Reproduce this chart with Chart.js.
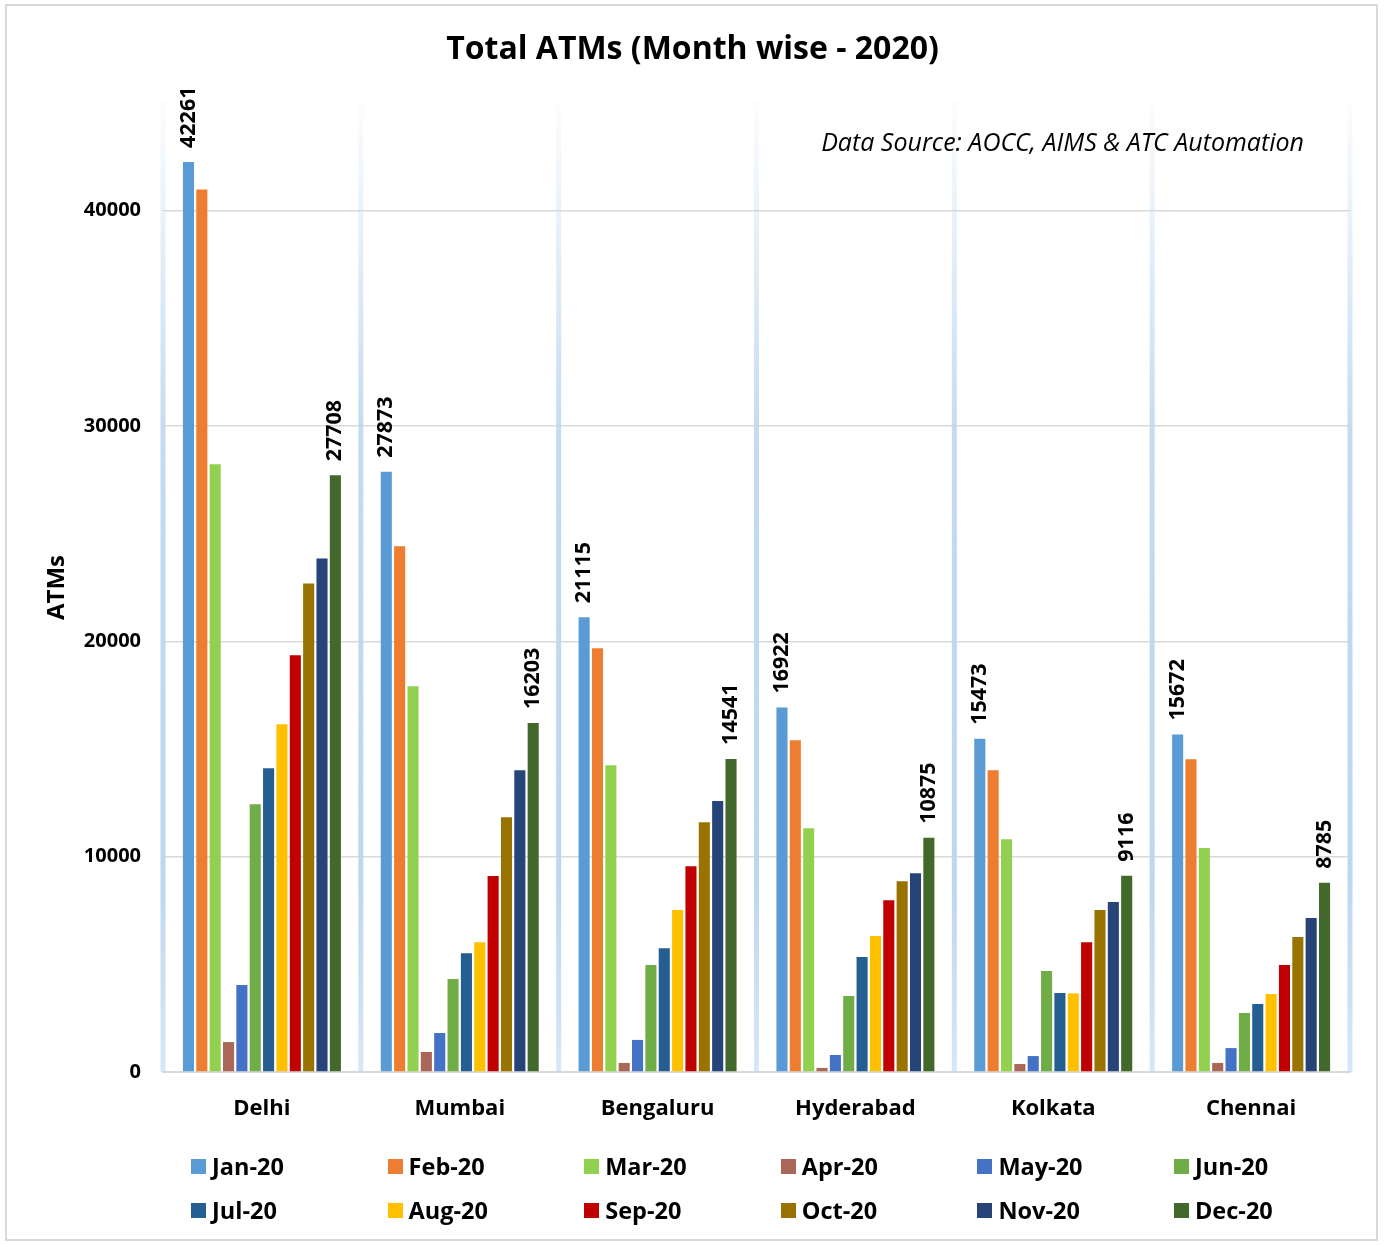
<!DOCTYPE html>
<html>
<head>
<meta charset="utf-8">
<script src="https://cdn.jsdelivr.net/npm/chart.js@4/dist/chart.umd.min.js"></script>
<style>
  html, body { margin: 0; padding: 0; background: #fff; overflow: hidden; }
  #wrap { position: relative; width: 1385px; height: 1245px; }
  #frame { position: absolute; left: 5px; top: 4px; width: 1373px; height: 1237px; border: 2px solid #D9D9D9; box-sizing: border-box; pointer-events: none; }
  #legend { position: absolute; left: 191px; top: 1144px; display: grid; grid-template-columns: repeat(6, 196.6px); grid-auto-rows: 44px; font-family: 'Open Sans', sans-serif; font-weight: bold; font-size: 23.5px; color: #000; }
  .item { display: flex; align-items: center; white-space: nowrap; }
  .sw { width: 15px; height: 15px; margin-right: 6px; flex: none; }
</style>
</head>
<body>
<div id="wrap">
  <canvas id="c" width="1385" height="1245"></canvas>
  <div id="legend"></div>
  <div id="frame"></div>
</div>
<script>
const cities = ['Delhi', 'Mumbai', 'Bengaluru', 'Hyderabad', 'Kolkata', 'Chennai'];
const months = ['Jan-20', 'Feb-20', 'Mar-20', 'Apr-20', 'May-20', 'Jun-20', 'Jul-20', 'Aug-20', 'Sep-20', 'Oct-20', 'Nov-20', 'Dec-20'];
const colors = ['#5B9BD5', '#ED7D31', '#92D050', '#AA6656', '#4472C4', '#70AD47', '#255E91', '#FFC000', '#C00000', '#997300', '#264478', '#43682B'];

// values per month, ordered by city: Delhi, Mumbai, Bengaluru, Hyderabad, Kolkata, Chennai
const jan = [42261, 27873, 21115, 16922, 15473, 15672];
const feb = [40980, 24410, 19680, 15410, 14010, 14520];
const mar = [28220, 17910, 14250, 11320, 10810, 10400];
const apr = [1390, 930, 420, 190, 370, 420];
const may = [4040, 1810, 1490, 790, 740, 1110];
const jun = [12440, 4320, 4970, 3530, 4690, 2740];
const jul = [14110, 5520, 5750, 5340, 3670, 3160];
const aug = [16150, 6030, 7520, 6310, 3650, 3620];
const sep = [19350, 9100, 9560, 7980, 6030, 4970];
const oct = [22690, 11830, 11600, 8860, 7520, 6270];
const nov = [23850, 14010, 12580, 9230, 7890, 7150];
const dec = [27708, 16203, 14541, 10875, 9116, 8785];
const seriesValues = [jan, feb, mar, apr, may, jun, jul, aug, sep, oct, nov, dec];
const labelledSeries = [0, 11];
const yTicks = [0, 10000, 20000, 30000, 40000];
const sourceNote = 'Data Source: AOCC, AIMS & ATC Automation';

const FONT = "'Open Sans', sans-serif";

const separators = {
  id: 'separators',
  beforeDatasetsDraw(chart) {
    const { ctx, chartArea } = chart;
    const xs = chart.scales.x;
    const n = cities.length;
    const bounds = [chartArea.left];
    for (let i = 1; i < n; i++) bounds.push((xs.getPixelForValue(i - 1) + xs.getPixelForValue(i)) / 2);
    bounds.push(chartArea.right);
    const top = chartArea.top - 2, bottom = chartArea.bottom;
    ctx.save();
    const g = ctx.createLinearGradient(0, top, 0, bottom);
    g.addColorStop(0, 'rgba(189,215,238,0.05)');
    g.addColorStop(0.35, 'rgba(189,215,238,0.9)');
    g.addColorStop(0.8, 'rgba(189,215,238,1)');
    g.addColorStop(1, 'rgba(189,215,238,0.6)');
    ctx.fillStyle = g;
    bounds.forEach(x => ctx.fillRect(x - 2.5, top, 5, bottom - top));
    ctx.restore();
  }
};

const valueLabels = {
  id: 'valueLabels',
  afterDatasetsDraw(chart) {
    const { ctx } = chart;
    ctx.save();
    ctx.font = 'bold 21.5px ' + FONT;
    ctx.fillStyle = '#000';
    ctx.textAlign = 'left';
    ctx.textBaseline = 'middle';
    labelledSeries.forEach(di => {
      const meta = chart.getDatasetMeta(di);
      meta.data.forEach((bar, i) => {
        ctx.save();
        ctx.translate(bar.x, bar.y - 14);
        ctx.rotate(-Math.PI / 2);
        ctx.fillText(String(chart.data.datasets[di].data[i]), 0, 0);
        ctx.restore();
      });
    });
    ctx.font = 'italic 25px ' + FONT;
    ctx.textAlign = 'right';
    ctx.fillText(sourceNote, chart.chartArea.right - 46, chart.chartArea.top + 41);
    ctx.restore();
  }
};

const chart = new Chart(document.getElementById('c'), {
  type: 'bar',
  data: {
    labels: cities,
    datasets: months.map((m, i) => ({
      label: m,
      data: seriesValues[i],
      backgroundColor: colors[i],
      borderWidth: 0,
      categoryPercentage: 0.81,
      barPercentage: 0.83
    }))
  },
  options: {
    responsive: false,
    animation: false,
    layout: { padding: { left: 35, right: 35, top: 0, bottom: 113 } },
    plugins: {
      legend: { display: false },
      tooltip: { enabled: false },
      title: {
        display: true,
        text: 'Total ATMs (Month wise - 2020)',
        color: '#000',
        font: { family: FONT, size: 32, weight: 'bold', lineHeight: 1.2 },
        padding: { top: 31, bottom: 33.6 }
      }
    },
    scales: {
      x: {
        grid: { display: false, drawTicks: false },
        border: { display: true, color: '#D9D9D9', width: 2 },
        ticks: { color: '#000', font: { family: FONT, size: 22, weight: 'bold' }, padding: 24 },
        afterFit(scale) { scale.height = 60; }
      },
      y: {
        min: 0,
        max: 45000,
        afterBuildTicks(scale) { scale.ticks = yTicks.map(v => ({ value: v })); },
        grid: { color: '#D9D9D9', lineWidth: 1.5, drawTicks: false },
        border: { display: false },
        ticks: { color: '#000', font: { family: FONT, size: 20, weight: 'bold' }, padding: 22, callback: v => String(v) },
        title: { display: true, text: 'ATMs', color: '#000', font: { family: FONT, size: 24, weight: 'bold', lineHeight: 1.2 }, padding: { top: 7.6, bottom: 0 } },
        afterFit(scale) { scale.width = 128; }
      }
    }
  },
  plugins: [separators, valueLabels]
});

const leg = document.getElementById('legend');
months.forEach((m, i) => {
  const d = document.createElement('div');
  d.className = 'item';
  d.innerHTML = '<span class="sw" style="background:' + colors[i] + '"></span><span>' + m + '</span>';
  leg.appendChild(d);
});
</script>
</body>
</html>
